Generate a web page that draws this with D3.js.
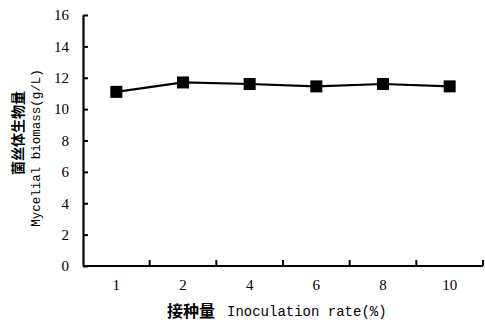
<!DOCTYPE html>
<html>
<head>
<meta charset="utf-8">
<script src="https://cdn.jsdelivr.net/npm/d3@7"></script>
<style>
  body { margin: 0; background: #fff; }
  svg { display: block; }
  .num { font-family: "Liberation Serif", "DejaVu Serif", serif; font-size: 15px; fill: #000; }
  .cjk { font-family: "Noto Sans CJK SC", sans-serif; font-weight: bold; }
  .mono { font-family: "Liberation Mono", "DejaVu Sans Mono", monospace; }
</style>
</head>
<body>
<div id="output"></div>
<script>
// Data
const categories = ["1", "2", "4", "6", "8", "10"];
const biomass = [11.1, 11.7, 11.6, 11.45, 11.6, 11.45];
const yTicks = [0, 2, 4, 6, 8, 10, 12, 14, 16];

const W = 485, H = 326;
const margin = { top: 15, right: 2, bottom: 60, left: 83 };
const width = W - margin.left - margin.right;
const height = H - margin.top - margin.bottom;

const svg = d3.select("#output").append("svg")
  .attr("width", W)
  .attr("height", H);

const g = svg.append("g")
  .attr("transform", `translate(${margin.left},${margin.top})`);

// X scale (categorical bands, ticks between categories)
const x = d3.scaleBand()
  .domain(categories)
  .range([0, width])
  .padding(0);

// Y scale
const y = d3.scaleLinear()
  .domain([0, 16])
  .range([height, 0]);

// Y axis: ticks point inward
const yAxis = g.append("g")
  .call(d3.axisLeft(y).tickValues(yTicks).tickSize(-5).tickPadding(14).tickSizeOuter(0));
yAxis.attr("font-family", null).attr("font-size", null);
yAxis.select(".domain").attr("stroke", "#000").attr("stroke-width", 2.2);
yAxis.selectAll(".tick line").attr("stroke", "#000").attr("stroke-width", 2);
yAxis.selectAll(".tick text").attr("class", "num");

// X axis: baseline with upward ticks at band boundaries
const xAxis = g.append("g")
  .attr("transform", `translate(0,${height})`);
xAxis.append("line")
  .attr("x1", 0).attr("x2", width)
  .attr("stroke", "#000").attr("stroke-width", 2.2);
xAxis.selectAll(".btick")
  .data(categories)
  .enter().append("line")
  .attr("class", "btick")
  .attr("x1", d => x(d) + x.bandwidth())
  .attr("x2", d => x(d) + x.bandwidth())
  .attr("y1", 0).attr("y2", -6)
  .attr("stroke", "#000").attr("stroke-width", 2);
xAxis.selectAll(".blabel")
  .data(categories)
  .enter().append("text")
  .attr("class", "num")
  .attr("x", d => x(d) + x.bandwidth() / 2)
  .attr("y", 24)
  .attr("text-anchor", "middle")
  .text(d => d);

// Line
const line = d3.line()
  .x((d, i) => x(categories[i]) + x.bandwidth() / 2)
  .y(d => y(d));

g.append("path")
  .datum(biomass)
  .attr("fill", "none")
  .attr("stroke", "#000")
  .attr("stroke-width", 2.2)
  .attr("d", line);

// Square markers
const s = 12;
g.selectAll(".pt")
  .data(biomass)
  .enter().append("rect")
  .attr("class", "pt")
  .attr("x", (d, i) => x(categories[i]) + x.bandwidth() / 2 - s / 2)
  .attr("y", d => y(d) - s / 2)
  .attr("width", s)
  .attr("height", s)
  .attr("fill", "#000");

// Y axis title (two lines, rotated)
const yt = svg.append("g")
  .attr("transform", "translate(0,133) rotate(-90)");
yt.append("text")
  .attr("class", "cjk")
  .attr("font-size", 14)
  .attr("x", 0).attr("y", 23)
  .attr("text-anchor", "middle")
  .text("菌丝体生物量");
yt.append("text")
  .attr("class", "mono")
  .attr("font-size", 12.5)
  .attr("x", -15).attr("y", 40)
  .attr("text-anchor", "middle")
  .text("Mycelial biomass(g/L)");

// X axis title
svg.append("text")
  .attr("class", "cjk")
  .attr("font-size", 16)
  .attr("x", 167)
  .attr("y", 317)
  .text("接种量");
svg.append("text")
  .attr("class", "mono")
  .attr("font-size", 14)
  .attr("x", 227)
  .attr("y", 316)
  .text("Inoculation rate(%)");
</script>
</body>
</html>
